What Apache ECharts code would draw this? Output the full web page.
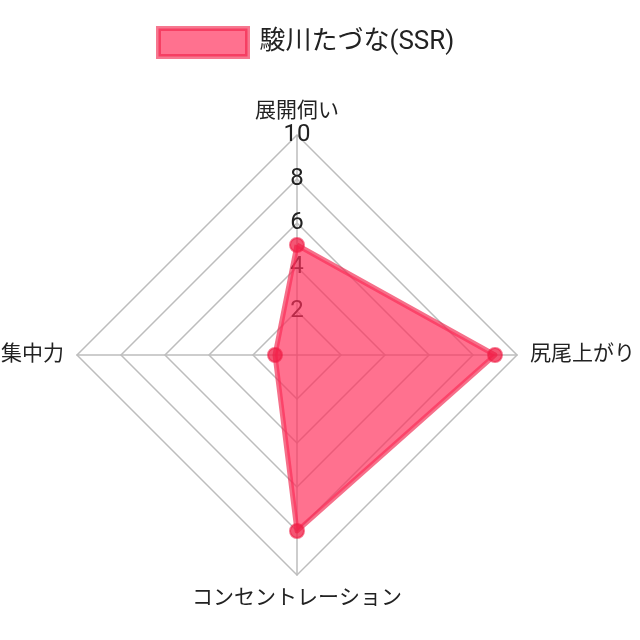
<!DOCTYPE html>
<html><head><meta charset="utf-8">
<script src="https://cdn.jsdelivr.net/npm/echarts@6/dist/echarts.min.js"></script>
<style>html,body{margin:0;padding:0;background:#fff}#c{width:640px;height:640px}</style>
</head><body><div id="c"></div>
<script>
// indicators in ECharts drawing order (counter-clockwise from top)
const indicators = ['展開伺い', '集中力', 'コンセントレーション', '尻尾上がり'];
const seriesName = '駿川たづな(SSR)';
const values = [5, 1, 8, 9];
const maxValue = 10;
const tickInterval = 2;

const chart = echarts.init(document.getElementById('c'), null, {renderer: 'canvas'});
const FONT = 'Roboto, "Noto Sans CJK JP", sans-serif';
chart.setOption({
  animation: false,
  legend: {
    top: 21, left: 151,
    itemWidth: 89, itemHeight: 28, itemGap: 10,
    itemStyle: {color: 'rgba(255, 45, 90, 0.68)', borderColor: 'rgba(240, 30, 70, 0.6)', borderWidth: 5},
    textStyle: {fontSize: 26, color: '#222', fontFamily: FONT, padding: [0, 0, 0, 7]},
    data: [{name: seriesName, icon: 'rect'}]
  },
  polar: {center: [297, 355], radius: 220},
  angleAxis: {show: false, startAngle: 90, min: 0, max: 360},
  radiusAxis: {
    min: 0, max: maxValue, interval: tickInterval, z: 0,
    axisLine: {show: false}, axisTick: {show: false}, splitLine: {show: false},
    axisLabel: {show: true, showMinLabel: false, fontSize: 24, color: '#222', fontFamily: FONT, margin: 0, align: 'center', verticalAlign: 'middle'}
  },
  radar: {
    center: [297, 355], radius: 220, shape: 'polygon', splitNumber: 5, startAngle: 90,
    indicator: indicators.map(n => ({name: n, min: 0, max: maxValue})),
    nameGap: 13,
    axisName: {color: '#222', fontSize: 21, fontFamily: FONT},
    splitLine: {lineStyle: {color: '#bdbdbd', width: 1.5}},
    axisLine: {lineStyle: {color: '#bdbdbd', width: 1.5}},
    splitArea: {show: false}
  },
  series: [{
    type: 'radar', name: seriesName, z: 3,
    symbol: 'circle', symbolSize: 14,
    itemStyle: {color: 'rgba(240, 30, 70, 0.75)', borderColor: 'rgba(240,30,70,0.6)', borderWidth: 2},
    lineStyle: {color: 'rgba(240, 35, 75, 0.65)', width: 5},
    areaStyle: {color: 'rgba(255, 45, 90, 0.68)', opacity: 1},
    data: [{value: values, name: seriesName}]
  }]
});
</script></body></html>
